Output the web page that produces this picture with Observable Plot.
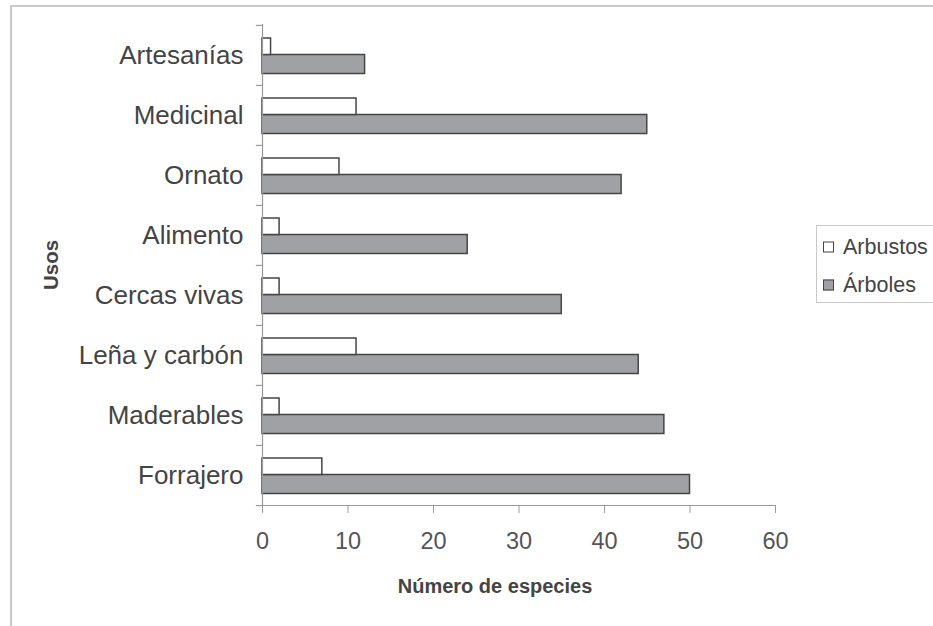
<!DOCTYPE html>
<html><head><meta charset="utf-8">
<script src="https://cdn.jsdelivr.net/npm/d3@7"></script>
<script src="https://cdn.jsdelivr.net/npm/@observablehq/plot@0.6"></script>
<style>
body{margin:0;background:#fff;font-family:"Liberation Sans",Arial,sans-serif;}
#wrap{position:relative;width:933px;height:626px;overflow:hidden;background:#fff;}
#frame{position:absolute;left:10px;top:5px;width:1000px;height:700px;border-top:2px solid #c8c8c8;border-left:2px solid #c8c8c8;}
#chart{position:absolute;left:0;top:0;}
#legend{position:absolute;left:816px;top:225px;width:140px;height:76px;border:1px solid #c8c8c8;background:#fff;}
.item{position:absolute;left:6px;display:flex;align-items:center;font-size:21.5px;color:#444;transform:translateY(-50%);}
.sw{width:9px;height:9px;border:1.5px solid #444;margin-right:9px;}
</style></head>
<body><div id="wrap"><div id="frame"></div><div id="chart"></div><div id="legend"></div></div>
<script>
const categories = ["Artesanías","Medicinal","Ornato","Alimento","Cercas vivas","Leña y carbón","Maderables","Forrajero"];
const arbustos = [1, 11, 9, 2, 2, 11, 2, 7];
const arboles = [12, 45, 42, 24, 35, 44, 47, 50];
const xTicks = [0, 10, 20, 30, 40, 50, 60];
const seriesNames = ["Arbustos", "Árboles"];
const seriesFill = ["#ffffff", "#a0a1a4"];
const xLabel = "Número de especies";
const yLabel = "Usos";

const rows = categories.map((c, i) => ({category: c, arbustos: arbustos[i], arboles: arboles[i]}));
const W = 933, H = 626, mT = 24, mB = 121, mL = 262, mR = 158;
const step = (H - mT - mB) / categories.length;
const stroke = "#454545";

const chart = Plot.plot({
  width: W, height: H,
  marginTop: mT, marginBottom: mB, marginLeft: mL, marginRight: mR,
  style: {fontFamily: '"Liberation Sans", Arial, sans-serif', color: "#444", background: "transparent"},
  x: {domain: [0, 60], ticks: xTicks, label: null},
  y: {type: "band", domain: categories, padding: 0, label: null},
  marks: [
    Plot.barX(rows, {y: "category", x: "arboles", fill: seriesFill[1], stroke, strokeWidth: 1.5, insetTop: 29.5, insetBottom: 11.5}),
    Plot.barX(rows, {y: "category", x: "arbustos", fill: seriesFill[0], stroke, strokeWidth: 1.5, insetTop: 13, insetBottom: 30.5}),
    Plot.ruleX([0], {stroke: "#9a9a9a", strokeWidth: 1.2}),
    Plot.frame({anchor: "bottom", stroke: "#9a9a9a", strokeWidth: 1.2}),
    Plot.ruleY(categories, {y: d => d, x1: -0.72, x2: 0, dy: -step / 2, stroke: "#9a9a9a", strokeWidth: 1.2}),
    Plot.ruleY(categories.slice(-1), {y: d => d, x1: -0.72, x2: 0, dy: step / 2, stroke: "#9a9a9a", strokeWidth: 1.2}),
    Plot.axisX({ticks: xTicks, tickSize: 8, tickPadding: 19, fontSize: 23.5, stroke: "#9a9a9a", fill: "#555", label: null}),
    Plot.axisY({tickSize: 0, tickPadding: 19, fontSize: 26, fill: "#444", label: null}),
    Plot.text([xLabel], {frameAnchor: "bottom", lineAnchor: "middle", textAnchor: "middle", dy: 81, dx: -24, fontWeight: "bold", fontSize: 20, fill: "#444"}),
    Plot.text([yLabel], {frameAnchor: "left", textAnchor: "middle", lineAnchor: "middle", rotate: -90, dx: -211, fontWeight: "bold", fontSize: 20.5, fill: "#444"})
  ]
});
document.getElementById("chart").appendChild(chart);

const legend = document.getElementById("legend");
const legendY = [21, 59];
seriesNames.forEach((name, i) => {
  const it = document.createElement("div");
  it.className = "item";
  it.style.top = legendY[i] + "px";
  const sw = document.createElement("span");
  sw.className = "sw";
  sw.style.background = seriesFill[i];
  const t = document.createElement("span");
  t.textContent = name;
  it.appendChild(sw); it.appendChild(t);
  legend.appendChild(it);
});
</script>
</body></html>
